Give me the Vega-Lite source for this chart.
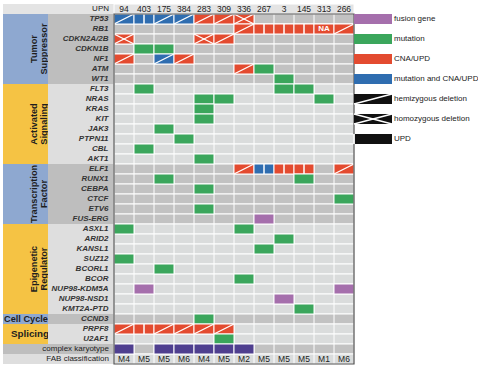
{
  "$schema": "https://vega.github.io/schema/vega-lite/v6.json",
  "padding": {"left": 3, "top": 3, "right": 0, "bottom": 0},
  "background": "white",
  "config": {"view": {"stroke": null}, "axis": {"disable": true}, "legend": {"disable": true}},
  "datasets": {
    "rows": [
      {"gene": "UPN", "group": "header"},
      {"gene": "TP53", "group": "Tumor Suppressor"},
      {"gene": "RB1", "group": "Tumor Suppressor"},
      {"gene": "CDKN2A/2B", "group": "Tumor Suppressor"},
      {"gene": "CDKN1B", "group": "Tumor Suppressor"},
      {"gene": "NF1", "group": "Tumor Suppressor"},
      {"gene": "ATM", "group": "Tumor Suppressor"},
      {"gene": "WT1", "group": "Tumor Suppressor"},
      {"gene": "FLT3", "group": "Activated Signaling"},
      {"gene": "NRAS", "group": "Activated Signaling"},
      {"gene": "KRAS", "group": "Activated Signaling"},
      {"gene": "KIT", "group": "Activated Signaling"},
      {"gene": "JAK3", "group": "Activated Signaling"},
      {"gene": "PTPN11", "group": "Activated Signaling"},
      {"gene": "CBL", "group": "Activated Signaling"},
      {"gene": "AKT1", "group": "Activated Signaling"},
      {"gene": "ELF1", "group": "Transcription Factor"},
      {"gene": "RUNX1", "group": "Transcription Factor"},
      {"gene": "CEBPA", "group": "Transcription Factor"},
      {"gene": "CTCF", "group": "Transcription Factor"},
      {"gene": "ETV6", "group": "Transcription Factor"},
      {"gene": "FUS-ERG", "group": "Transcription Factor"},
      {"gene": "ASXL1", "group": "Epigenetic Regulator"},
      {"gene": "ARID2", "group": "Epigenetic Regulator"},
      {"gene": "KANSL1", "group": "Epigenetic Regulator"},
      {"gene": "SUZ12", "group": "Epigenetic Regulator"},
      {"gene": "BCORL1", "group": "Epigenetic Regulator"},
      {"gene": "BCOR", "group": "Epigenetic Regulator"},
      {"gene": "NUP98-KDM5A", "group": "Epigenetic Regulator"},
      {"gene": "NUP98-NSD1", "group": "Epigenetic Regulator"},
      {"gene": "KMT2A-PTD", "group": "Epigenetic Regulator"},
      {"gene": "CCND3", "group": "Cell Cycle"},
      {"gene": "PRPF8", "group": "Splicing"},
      {"gene": "U2AF1", "group": "Splicing"},
      {"gene": "complex karyotype", "group": "complex karyotype"},
      {"gene": "FAB classification", "group": "FAB classification"}
    ],
    "grouplabels": [
      {"group": "Tumor Suppressor", "label": "Tumor\nSuppressor", "mid": "CDKN1B"},
      {"group": "Activated Signaling", "label": "Activated\nSignaling", "mid": "JAK3"},
      {"group": "Transcription Factor", "label": "Transcription\nFactor", "mid": "CTCF"},
      {"group": "Epigenetic Regulator", "label": "Epigenetic\nRegulator", "mid": "BCORL1"},
      {"group": "Cell Cycle", "label": "Cell Cycle", "mid": "CCND3"},
      {"group": "Splicing", "label": "Splicing", "mid": "U2AF1"}
    ],
    "cols": [
      {"upn": "94", "fab": "M4"}, {"upn": "403", "fab": "M5"}, {"upn": "175", "fab": "M5"},
      {"upn": "384", "fab": "M6"}, {"upn": "283", "fab": "M4"}, {"upn": "309", "fab": "M5"},
      {"upn": "336", "fab": "M2"}, {"upn": "267", "fab": "M5"}, {"upn": "3", "fab": "M5"},
      {"upn": "145", "fab": "M5"}, {"upn": "313", "fab": "M1"}, {"upn": "266", "fab": "M6"}
    ],
    "cells": [
      {"upn": "94", "gene": "TP53", "alt": "mutation and CNA/UPD", "lesion": "hemizygous deletion"},
      {"upn": "403", "gene": "TP53", "alt": "mutation and CNA/UPD", "lesion": "UPD"},
      {"upn": "175", "gene": "TP53", "alt": "mutation and CNA/UPD", "lesion": "hemizygous deletion"},
      {"upn": "384", "gene": "TP53", "alt": "mutation and CNA/UPD", "lesion": "hemizygous deletion"},
      {"upn": "283", "gene": "TP53", "alt": "CNA/UPD", "lesion": "hemizygous deletion"},
      {"upn": "309", "gene": "TP53", "alt": "CNA/UPD", "lesion": "hemizygous deletion"},
      {"upn": "336", "gene": "TP53", "alt": "CNA/UPD", "lesion": "homozygous deletion"},
      {"upn": "336", "gene": "RB1", "alt": "CNA/UPD", "lesion": "hemizygous deletion"},
      {"upn": "267", "gene": "RB1", "alt": "CNA/UPD", "lesion": "UPD"},
      {"upn": "3", "gene": "RB1", "alt": "CNA/UPD", "lesion": "UPD"},
      {"upn": "145", "gene": "RB1", "alt": "CNA/UPD", "lesion": "UPD"},
      {"upn": "313", "gene": "RB1", "alt": "CNA/UPD", "note": "NA"},
      {"upn": "266", "gene": "RB1", "alt": "CNA/UPD", "lesion": "hemizygous deletion"},
      {"upn": "94", "gene": "CDKN2A/2B", "alt": "CNA/UPD", "lesion": "homozygous deletion"},
      {"upn": "283", "gene": "CDKN2A/2B", "alt": "CNA/UPD", "lesion": "homozygous deletion"},
      {"upn": "309", "gene": "CDKN2A/2B", "alt": "CNA/UPD", "lesion": "hemizygous deletion"},
      {"upn": "403", "gene": "CDKN1B", "alt": "mutation"},
      {"upn": "175", "gene": "CDKN1B", "alt": "mutation"},
      {"upn": "94", "gene": "NF1", "alt": "CNA/UPD", "lesion": "hemizygous deletion"},
      {"upn": "175", "gene": "NF1", "alt": "mutation and CNA/UPD", "lesion": "hemizygous deletion"},
      {"upn": "384", "gene": "NF1", "alt": "CNA/UPD", "lesion": "hemizygous deletion"},
      {"upn": "336", "gene": "ATM", "alt": "CNA/UPD", "lesion": "hemizygous deletion"},
      {"upn": "267", "gene": "ATM", "alt": "mutation"},
      {"upn": "3", "gene": "WT1", "alt": "mutation"},
      {"upn": "403", "gene": "FLT3", "alt": "mutation"},
      {"upn": "3", "gene": "FLT3", "alt": "mutation"},
      {"upn": "145", "gene": "FLT3", "alt": "mutation"},
      {"upn": "283", "gene": "NRAS", "alt": "mutation"},
      {"upn": "309", "gene": "NRAS", "alt": "mutation"},
      {"upn": "313", "gene": "NRAS", "alt": "mutation"},
      {"upn": "283", "gene": "KRAS", "alt": "mutation"},
      {"upn": "283", "gene": "KIT", "alt": "mutation"},
      {"upn": "175", "gene": "JAK3", "alt": "mutation"},
      {"upn": "384", "gene": "PTPN11", "alt": "mutation"},
      {"upn": "403", "gene": "CBL", "alt": "mutation"},
      {"upn": "283", "gene": "AKT1", "alt": "mutation"},
      {"upn": "336", "gene": "ELF1", "alt": "CNA/UPD", "lesion": "hemizygous deletion"},
      {"upn": "267", "gene": "ELF1", "alt": "mutation and CNA/UPD", "lesion": "UPD"},
      {"upn": "3", "gene": "ELF1", "alt": "CNA/UPD", "lesion": "UPD"},
      {"upn": "145", "gene": "ELF1", "alt": "CNA/UPD", "lesion": "UPD"},
      {"upn": "266", "gene": "ELF1", "alt": "CNA/UPD", "lesion": "hemizygous deletion"},
      {"upn": "175", "gene": "RUNX1", "alt": "mutation"},
      {"upn": "145", "gene": "RUNX1", "alt": "mutation"},
      {"upn": "283", "gene": "CEBPA", "alt": "mutation"},
      {"upn": "266", "gene": "CTCF", "alt": "mutation"},
      {"upn": "283", "gene": "ETV6", "alt": "mutation"},
      {"upn": "267", "gene": "FUS-ERG", "alt": "fusion gene"},
      {"upn": "94", "gene": "ASXL1", "alt": "mutation"},
      {"upn": "336", "gene": "ASXL1", "alt": "mutation"},
      {"upn": "3", "gene": "ARID2", "alt": "mutation"},
      {"upn": "267", "gene": "KANSL1", "alt": "mutation"},
      {"upn": "94", "gene": "SUZ12", "alt": "mutation"},
      {"upn": "175", "gene": "BCORL1", "alt": "mutation"},
      {"upn": "336", "gene": "BCOR", "alt": "mutation"},
      {"upn": "403", "gene": "NUP98-KDM5A", "alt": "fusion gene"},
      {"upn": "266", "gene": "NUP98-KDM5A", "alt": "fusion gene"},
      {"upn": "3", "gene": "NUP98-NSD1", "alt": "fusion gene"},
      {"upn": "145", "gene": "KMT2A-PTD", "alt": "mutation"},
      {"upn": "283", "gene": "CCND3", "alt": "mutation"},
      {"upn": "94", "gene": "PRPF8", "alt": "CNA/UPD", "lesion": "hemizygous deletion"},
      {"upn": "403", "gene": "PRPF8", "alt": "CNA/UPD", "lesion": "UPD"},
      {"upn": "175", "gene": "PRPF8", "alt": "CNA/UPD", "lesion": "hemizygous deletion"},
      {"upn": "384", "gene": "PRPF8", "alt": "CNA/UPD", "lesion": "hemizygous deletion"},
      {"upn": "283", "gene": "PRPF8", "alt": "CNA/UPD", "lesion": "hemizygous deletion"},
      {"upn": "309", "gene": "PRPF8", "alt": "CNA/UPD", "lesion": "hemizygous deletion"},
      {"upn": "309", "gene": "U2AF1", "alt": "mutation"},
      {"upn": "94", "gene": "complex karyotype", "alt": "complex karyotype"},
      {"upn": "175", "gene": "complex karyotype", "alt": "complex karyotype"},
      {"upn": "384", "gene": "complex karyotype", "alt": "complex karyotype"},
      {"upn": "283", "gene": "complex karyotype", "alt": "complex karyotype"},
      {"upn": "309", "gene": "complex karyotype", "alt": "complex karyotype"},
      {"upn": "336", "gene": "complex karyotype", "alt": "complex karyotype"}
    ],
    "legend": [
      {"item": "fusion gene"},
      {"item": "mutation"},
      {"item": "CNA/UPD"},
      {"item": "mutation and CNA/UPD"},
      {"item": "hemizygous deletion"},
      {"item": "homozygous deletion"},
      {"item": "UPD"}
    ]
  },
  "bounds": "flush",
  "spacing": 0,
  "resolve": {"scale": {"x": "independent", "y": "independent", "fill": "independent"}},
  "hconcat": [
    {
      "width": 45,
      "height": 360,
      "layer": [
        {
          "data": {"name": "rows"},
          "mark": {"type": "rect"},
          "encoding": {
            "y": {"field": "gene", "type": "nominal", "scale": {"type": "band", "paddingInner": 0, "paddingOuter": 0, "domain": ["UPN","TP53","RB1","CDKN2A/2B","CDKN1B","NF1","ATM","WT1","FLT3","NRAS","KRAS","KIT","JAK3","PTPN11","CBL","AKT1","ELF1","RUNX1","CEBPA","CTCF","ETV6","FUS-ERG","ASXL1","ARID2","KANSL1","SUZ12","BCORL1","BCOR","NUP98-KDM5A","NUP98-NSD1","KMT2A-PTD","CCND3","PRPF8","U2AF1","complex karyotype","FAB classification"]}},
            "x": {"value": 0},
            "x2": {"value": "width"},
            "fill": {"field": "group", "type": "nominal", "legend": null, "scale": {"domain": ["header","Tumor Suppressor","Activated Signaling","Transcription Factor","Epigenetic Regulator","Cell Cycle","Splicing","complex karyotype","FAB classification"], "range": ["#e4e4e4","#8ea8d0","#f5c344","#8ea8d0","#f5c344","#8ea8d0","#f5c344","#bebebe","#dedede"]}}
          }
        },
        {
          "data": {"name": "grouplabels"},
          "transform": [{"filter": {"field": "group", "oneOf": ["Tumor Suppressor", "Epigenetic Regulator"]}}],
          "mark": {"type": "text", "angle": 270, "lineBreak": "\n", "lineHeight": 10, "font": "Liberation Sans, Arial, sans-serif", "fontSize": 9.2, "fontWeight": "bold", "color": "#1e1e1e", "align": "center", "baseline": "middle", "dy": 8},
          "encoding": {"y": {"field": "mid", "type": "nominal", "bandPosition": 0.5}, "text": {"field": "label"}}
        },
        {
          "data": {"name": "grouplabels"},
          "transform": [{"filter": {"field": "group", "oneOf": ["Activated Signaling", "Transcription Factor"]}}],
          "mark": {"type": "text", "angle": 270, "lineBreak": "\n", "lineHeight": 10, "font": "Liberation Sans, Arial, sans-serif", "fontSize": 9.2, "fontWeight": "bold", "color": "#1e1e1e", "align": "center", "baseline": "middle", "dy": 8},
          "encoding": {"y": {"field": "mid", "type": "nominal", "bandPosition": 0}, "text": {"field": "label"}}
        },
        {
          "data": {"name": "grouplabels"},
          "transform": [{"filter": {"field": "group", "equal": "Cell Cycle"}}],
          "mark": {"type": "text", "font": "Liberation Sans, Arial, sans-serif", "fontSize": 9.2, "fontWeight": "bold", "color": "#1e1e1e", "align": "center", "baseline": "middle", "dx": 0.5},
          "encoding": {"y": {"field": "mid", "type": "nominal", "bandPosition": 0.5}, "text": {"field": "label"}}
        },
        {
          "data": {"name": "grouplabels"},
          "transform": [{"filter": {"field": "group", "equal": "Splicing"}}],
          "mark": {"type": "text", "font": "Liberation Sans, Arial, sans-serif", "fontSize": 9.8, "fontWeight": "bold", "color": "#1e1e1e", "align": "center", "baseline": "middle", "dx": 4.5},
          "encoding": {"y": {"field": "mid", "type": "nominal", "bandPosition": 0}, "text": {"field": "label"}}
        }
      ]
    },
    {
      "width": 66,
      "height": 360,
      "layer": [
        {
          "data": {"name": "rows"},
          "mark": {"type": "rect"},
          "encoding": {
            "y": {"field": "gene", "type": "nominal", "scale": {"type": "band", "paddingInner": 0, "paddingOuter": 0, "domain": ["UPN","TP53","RB1","CDKN2A/2B","CDKN1B","NF1","ATM","WT1","FLT3","NRAS","KRAS","KIT","JAK3","PTPN11","CBL","AKT1","ELF1","RUNX1","CEBPA","CTCF","ETV6","FUS-ERG","ASXL1","ARID2","KANSL1","SUZ12","BCORL1","BCOR","NUP98-KDM5A","NUP98-NSD1","KMT2A-PTD","CCND3","PRPF8","U2AF1","complex karyotype","FAB classification"]}},
            "x": {"value": 0},
            "x2": {"value": "width"},
            "fill": {"field": "group", "type": "nominal", "legend": null, "scale": {"domain": ["header","Tumor Suppressor","Activated Signaling","Transcription Factor","Epigenetic Regulator","Cell Cycle","Splicing","complex karyotype","FAB classification"], "range": ["#e4e4e4","#bebebe","#dedede","#bebebe","#dedede","#bebebe","#dedede","#bebebe","#dedede"]}}
          }
        },
        {
          "data": {"name": "rows"},
          "transform": [{"filter": {"not": {"field": "group", "oneOf": ["header", "complex karyotype", "FAB classification"]}}}],
          "mark": {"type": "text", "font": "Liberation Sans, Arial, sans-serif", "fontSize": 8, "fontWeight": "bold", "fontStyle": "italic", "color": "#333333", "align": "right", "baseline": "middle", "dx": -5.5},
          "encoding": {"y": {"field": "gene", "type": "nominal"}, "x": {"value": "width"}, "text": {"field": "gene"}}
        },
        {
          "data": {"name": "rows"},
          "transform": [{"filter": {"field": "group", "oneOf": ["header", "complex karyotype", "FAB classification"]}}],
          "mark": {"type": "text", "font": "Liberation Sans, Arial, sans-serif", "fontSize": 8, "color": "#222222", "align": "right", "baseline": "middle", "dx": -5},
          "encoding": {"y": {"field": "gene", "type": "nominal"}, "x": {"value": "width"}, "text": {"field": "gene"}}
        }
      ]
    },
    {
      "width": 240,
      "height": 360,
      "resolve": {"scale": {"fill": "independent"}},
      "layer": [
        {
          "data": {"name": "rows"},
          "mark": {"type": "rect", "stroke": "white", "strokeWidth": 1},
          "encoding": {
            "y": {"field": "gene", "type": "nominal", "scale": {"type": "band", "paddingInner": 0, "paddingOuter": 0, "domain": ["UPN","TP53","RB1","CDKN2A/2B","CDKN1B","NF1","ATM","WT1","FLT3","NRAS","KRAS","KIT","JAK3","PTPN11","CBL","AKT1","ELF1","RUNX1","CEBPA","CTCF","ETV6","FUS-ERG","ASXL1","ARID2","KANSL1","SUZ12","BCORL1","BCOR","NUP98-KDM5A","NUP98-NSD1","KMT2A-PTD","CCND3","PRPF8","U2AF1","complex karyotype","FAB classification"]}},
            "x": {"value": 0},
            "x2": {"value": "width"},
            "fill": {"field": "group", "type": "nominal", "legend": null, "scale": {"domain": ["header","Tumor Suppressor","Activated Signaling","Transcription Factor","Epigenetic Regulator","Cell Cycle","Splicing","complex karyotype","FAB classification"], "range": ["#e4e4e4","#c2c2c2","#dadcdc","#c2c2c2","#dadcdc","#c2c2c2","#dadcdc","#c2c2c2","#dadcdc"]}}
          }
        },
        {
          "data": {"name": "cols"},
          "mark": {"type": "rule", "color": "white", "strokeWidth": 1},
          "encoding": {
            "x": {"field": "upn", "type": "nominal", "bandPosition": 0, "scale": {"type": "band", "paddingInner": 0, "paddingOuter": 0, "domain": ["94","403","175","384","283","309","336","267","3","145","313","266"]}},
            "y": {"datum": "TP53", "type": "nominal", "bandPosition": 0},
            "y2": {"datum": "FAB classification", "bandPosition": 1}
          }
        },
        {
          "data": {"name": "cells"},
          "mark": {"type": "rect", "stroke": "white", "strokeWidth": 1},
          "encoding": {
            "x": {"field": "upn", "type": "nominal"},
            "y": {"field": "gene", "type": "nominal"},
            "fill": {"field": "alt", "type": "nominal", "legend": null, "scale": {"domain": ["fusion gene","mutation","CNA/UPD","mutation and CNA/UPD","complex karyotype"], "range": ["#a56fac","#3ba65c","#e34b30","#2f6db0","#4f3f8f"]}}
          }
        },
        {
          "data": {"name": "cells"},
          "transform": [{"filter": {"field": "lesion", "oneOf": ["hemizygous deletion", "homozygous deletion"]}}],
          "mark": {"type": "rule", "color": "white", "strokeWidth": 1.3},
          "encoding": {
            "x": {"field": "upn", "type": "nominal", "bandPosition": 0},
            "x2": {"field": "upn", "bandPosition": 1},
            "y": {"field": "gene", "type": "nominal", "bandPosition": 1},
            "y2": {"field": "gene", "bandPosition": 0}
          }
        },
        {
          "data": {"name": "cells"},
          "transform": [{"filter": {"field": "lesion", "equal": "homozygous deletion"}}],
          "mark": {"type": "rule", "color": "white", "strokeWidth": 1.3},
          "encoding": {
            "x": {"field": "upn", "type": "nominal", "bandPosition": 0},
            "x2": {"field": "upn", "bandPosition": 1},
            "y": {"field": "gene", "type": "nominal", "bandPosition": 0},
            "y2": {"field": "gene", "bandPosition": 1}
          }
        },
        {
          "data": {"name": "cells"},
          "transform": [{"filter": {"field": "lesion", "equal": "UPD"}}],
          "mark": {"type": "rule", "color": "white", "strokeWidth": 1.5},
          "encoding": {
            "x": {"field": "upn", "type": "nominal", "bandPosition": 0.5},
            "y": {"field": "gene", "type": "nominal", "bandPosition": 0},
            "y2": {"field": "gene", "bandPosition": 1}
          }
        },
        {
          "data": {"name": "cells"},
          "transform": [{"filter": "isValid(datum.note)"}],
          "mark": {"type": "text", "font": "Liberation Sans, Arial, sans-serif", "fontSize": 8, "fontWeight": "bold", "color": "white", "align": "center", "baseline": "middle"},
          "encoding": {
            "x": {"field": "upn", "type": "nominal", "bandPosition": 0.5},
            "y": {"field": "gene", "type": "nominal", "bandPosition": 0.5},
            "text": {"field": "note"}
          }
        },
        {
          "data": {"name": "cols"},
          "mark": {"type": "text", "font": "Liberation Sans, Arial, sans-serif", "fontSize": 8.5, "color": "#222222", "align": "center", "baseline": "middle"},
          "encoding": {
            "x": {"field": "upn", "type": "nominal", "bandPosition": 0.5},
            "y": {"datum": "UPN", "type": "nominal", "bandPosition": 0.5},
            "text": {"field": "upn"}
          }
        },
        {
          "data": {"name": "cols"},
          "mark": {"type": "text", "font": "Liberation Sans, Arial, sans-serif", "fontSize": 8.5, "color": "#222222", "align": "center", "baseline": "middle"},
          "encoding": {
            "x": {"field": "upn", "type": "nominal", "bandPosition": 0.5},
            "y": {"datum": "FAB classification", "type": "nominal", "bandPosition": 0.5},
            "text": {"field": "fab"}
          }
        },
        {
          "data": {"values": [{}]},
          "mark": {"type": "rect", "fill": null, "fillOpacity": 0, "stroke": "#505050", "strokeWidth": 1.2},
          "encoding": {
            "x": {"value": 0},
            "x2": {"value": "width"},
            "y": {"datum": "TP53", "type": "nominal", "bandPosition": 0},
            "y2": {"datum": "FAB classification", "bandPosition": 1}
          }
        }
      ]
    },
    {
      "width": 38,
      "height": 150,
      "layer": [
        {
          "data": {"name": "legend"},
          "mark": {"type": "rect"},
          "encoding": {
            "y": {"field": "item", "type": "nominal", "scale": {"type": "band", "paddingInner": 0.5, "paddingOuter": 0.5, "domain": ["fusion gene","mutation","CNA/UPD","mutation and CNA/UPD","hemizygous deletion","homozygous deletion","UPD"]}},
            "x": {"value": {"expr": "width / 2"}},
            "x2": {"value": "width"},
            "fill": {"field": "item", "type": "nominal", "legend": null, "scale": {"domain": ["fusion gene","mutation","CNA/UPD","mutation and CNA/UPD","hemizygous deletion","homozygous deletion","UPD"], "range": ["#a56fac","#3ba65c","#e34b30","#2f6db0","#111111","#111111","#111111"]}}
          }
        },
        {
          "data": {"name": "legend"},
          "transform": [{"filter": {"field": "item", "oneOf": ["hemizygous deletion", "homozygous deletion"]}}],
          "mark": {"type": "rule", "color": "white", "strokeWidth": 1.4},
          "encoding": {
            "x": {"value": {"expr": "width / 2"}},
            "x2": {"value": "width"},
            "y": {"field": "item", "type": "nominal", "bandPosition": 1},
            "y2": {"field": "item", "bandPosition": 0}
          }
        },
        {
          "data": {"name": "legend"},
          "transform": [{"filter": {"field": "item", "equal": "homozygous deletion"}}],
          "mark": {"type": "rule", "color": "white", "strokeWidth": 1.4},
          "encoding": {
            "x": {"value": {"expr": "width / 2"}},
            "x2": {"value": "width"},
            "y": {"field": "item", "type": "nominal", "bandPosition": 0},
            "y2": {"field": "item", "bandPosition": 1}
          }
        },
        {
          "data": {"name": "legend"},
          "transform": [{"filter": {"field": "item", "equal": "UPD"}}],
          "mark": {"type": "rule", "color": "white", "strokeWidth": 1.8},
          "encoding": {
            "x": {"value": {"expr": "width * 0.75"}},
            "y": {"field": "item", "type": "nominal", "bandPosition": 0},
            "y2": {"field": "item", "bandPosition": 1}
          }
        },
        {
          "data": {"name": "legend"},
          "mark": {"type": "text", "font": "Liberation Sans, Arial, sans-serif", "fontSize": 8, "color": "#222222", "align": "left", "baseline": "middle", "dx": 2},
          "encoding": {
            "y": {"field": "item", "type": "nominal", "bandPosition": 0.5},
            "x": {"value": "width"},
            "text": {"field": "item"}
          }
        }
      ]
    }
  ]
}
